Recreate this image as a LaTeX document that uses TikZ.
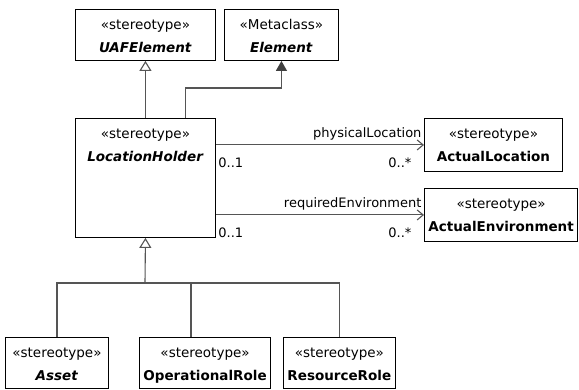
\documentclass[tikz,border=0pt]{standalone}
\usepackage{fontspec}
\setmainfont{DejaVu Sans}
\usepackage{tikz}
\usetikzlibrary{arrows.meta}
\usepackage{xcolor}
\definecolor{edgegray}{HTML}{555555}
\definecolor{tipgray}{HTML}{404040}

\tikzset{
  umlclass/.style={draw=black, line width=0.9pt, anchor=north west, align=center,
    inner sep=4pt, font=\fontsize{13.5}{23}\selectfont,
    text height=39pt, text depth=4pt, minimum height=51pt},
  umledge/.style={draw=edgegray, line width=1.1pt},
  generalize/.style={umledge, -{Triangle[open, length=10pt, width=12pt]}},
  extension/.style={umledge, -{Triangle[length=10pt, width=11pt, color=tipgray, fill=tipgray]}},
  navigable/.style={umledge, -{Straight Barb[length=6pt, width=10pt]}},
  rolelabel/.style={font=\fontsize{13}{15}\selectfont, inner sep=2pt}
}

\begin{document}
\begin{tikzpicture}[x=1pt, y=-1pt]
    \useasboundingbox (0, 0) rectangle (579, 390);
    % Parents
    \node[umlclass, minimum width=140pt] (uafelem) at (75, 9) {«stereotype»\\\textbf{\textit{UAFElement}}};
    \node[umlclass, minimum width=114pt] (element) at (224, 9) {«Metaclass»\\\textbf{\textit{Element}}};
    % Holder
    \node[umlclass, minimum width=140pt, minimum height=119pt, text depth=72pt] (lochold) at (75, 118) {«stereotype»\\\textbf{\textit{LocationHolder}}};
    % Targets
    \node[umlclass, minimum width=138pt, minimum height=53pt, text depth=6pt] (actloc) at (424, 118) {«stereotype»\\\textbf{ActualLocation}};
    \node[umlclass, minimum width=152pt, minimum height=53pt, text depth=6pt] (actenv) at (424, 188) {«stereotype»\\\textbf{ActualEnvironment}};
    % Children
    \node[umlclass, minimum width=103pt] (asset) at (5, 337) {«stereotype»\\\textbf{\textit{Asset}}};
    \node[umlclass, minimum width=122pt] (oprole) at (139, 337) {«stereotype»\\\textbf{OperationalRole}};
    \node[umlclass, minimum width=109pt] (resrole) at (283, 337) {«stereotype»\\\textbf{ResourceRole}};

    % Generalizations up
    \draw[generalize] (uafelem.south |- lochold.north) -- (uafelem.south);
    \draw[extension] ([xshift=40pt]lochold.north) -- ++(0, -30) -| (element.south);

    % Associations
    \draw[navigable] (actloc.west -| lochold.east) -- (actloc.west)
        node[rolelabel, pos=1, anchor=south east, yshift=2pt] {physicalLocation}
        node[rolelabel, pos=0, anchor=north west, yshift=-10pt] {0..1}
        node[rolelabel, pos=1, anchor=north east, yshift=-10pt, xshift=-10pt] {0..*};
    \draw[navigable] (actenv.west -| lochold.east) -- (actenv.west)
        node[rolelabel, pos=1, anchor=south east, yshift=2pt] {requiredEnvironment}
        node[rolelabel, pos=0, anchor=north west, yshift=-10pt] {0..1}
        node[rolelabel, pos=1, anchor=north east, yshift=-10pt, xshift=-10pt] {0..*};

    % Generalization tree
    \coordinate (fork) at (145, 283);
    \coordinate (opjoin) at (191, 283);
    \draw[generalize] (fork) -- (lochold.south);
    \draw[umledge] (asset.north) |- (fork) -| (resrole.north);
    \draw[umledge] (opjoin) -- (opjoin |- oprole.north);
\end{tikzpicture}
\end{document}
